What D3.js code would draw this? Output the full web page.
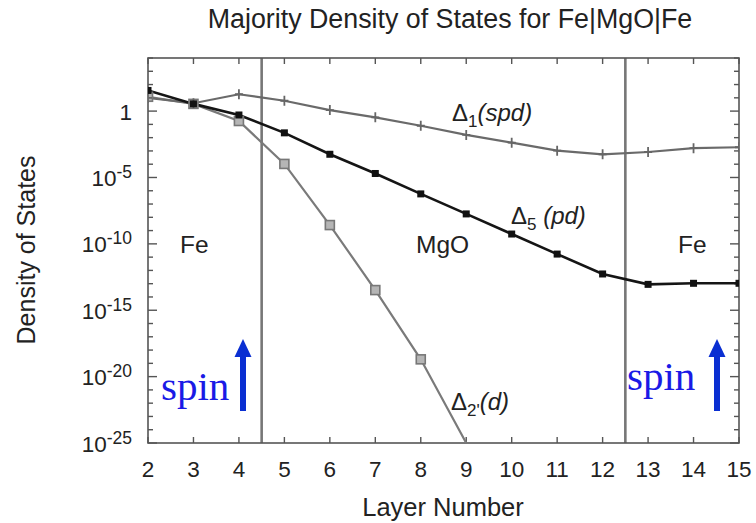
<!DOCTYPE html>
<html>
<head>
<meta charset="utf-8">
<script src="https://cdn.jsdelivr.net/npm/d3@7/dist/d3.min.js"></script>
<style>
  html, body { margin: 0; padding: 0; background: #fff; }
  svg { display: block; }
  text { font-family: "Liberation Sans", Arial, Helvetica, sans-serif; }
  text.spin { font-family: "Liberation Serif", "Times New Roman", serif; }
</style>
</head>
<body>
<svg id="chart" width="756" height="523"></svg>
<script>
// Layer index along the Fe|MgO|Fe stack
const layers = [2, 3, 4, 5, 6, 7, 8, 9, 10, 11, 12, 13, 14, 15];

// Majority density of states per symmetry channel
const delta1 = [10, 3.9, 18.6, 6.0, 1.2, 0.34, 0.079, 0.016, 4.2e-3, 1.05e-3, 5.6e-4, 8.3e-4, 1.6e-3, 1.9e-3];
const delta5 = [36, 3.5, 0.51, 0.023, 5.6e-4, 2.0e-5, 5.8e-7, 1.8e-8, 5.5e-10, 1.7e-11, 5.4e-13, 8.9e-14, 1.07e-13, 1.07e-13];
const delta2p = [12, 3.5, 0.18, 1.05e-4, 2.6e-9, 3.3e-14, 2.0e-19, 1e-25];
const delta2pLayers = [2, 3, 4, 5, 6, 7, 8, 9];

// Fe / MgO interfaces
const interfaces = [4.5, 12.5];

// Axis ticks
const xTicks = [2, 3, 4, 5, 6, 7, 8, 9, 10, 11, 12, 13, 14, 15];
const yTickExps = [-25, -24, -23, -22, -21, -20, -19, -18, -17, -16, -15, -14, -13, -12, -11, -10, -9, -8, -7, -6, -5, -4, -3, -2, -1, 0, 1, 2, 3, 4];
const yLabelExps = [-25, -20, -15, -10, -5, 0];

const svg = d3.select("#chart");
const pLeft = 148, pRight = 739, pTop = 58, pBottom = 443;

const x = d3.scaleLinear().domain([2, 15]).range([pLeft, pRight]);
const y = d3.scaleLog().domain([1e-25, 1e4]).range([pBottom, pTop]);

const frameColor = "#555";

// Title
svg.append("text")
  .attr("x", 450).attr("y", 28)
  .attr("text-anchor", "middle")
  .attr("font-size", 26.8)
  .attr("fill", "#222")
  .text("Majority Density of States for Fe|MgO|Fe");

// Clip for data
svg.append("defs").append("clipPath").attr("id", "plotClip")
  .append("rect").attr("x", pLeft).attr("y", pTop).attr("width", pRight - pLeft).attr("height", pBottom - pTop);

// Interface lines
svg.append("g").selectAll("line").data(interfaces).join("line")
  .attr("x1", d => x(d)).attr("x2", d => x(d))
  .attr("y1", pTop).attr("y2", pBottom)
  .attr("stroke", "#777").attr("stroke-width", 2.6);

// Ticks (inside the frame, on all four sides)
const tickG = svg.append("g").attr("stroke", frameColor).attr("stroke-width", 1.4);
xTicks.forEach(t => {
  tickG.append("line").attr("x1", x(t)).attr("x2", x(t)).attr("y1", pBottom).attr("y2", pBottom - 6);
  tickG.append("line").attr("x1", x(t)).attr("x2", x(t)).attr("y1", pTop).attr("y2", pTop + 6);
});
yTickExps.forEach(e => {
  const len = (e % 5 === 0) ? 9 : 5;
  const yy = y(Math.pow(10, e));
  tickG.append("line").attr("x1", pLeft).attr("x2", pLeft + len).attr("y1", yy).attr("y2", yy);
  tickG.append("line").attr("x1", pRight).attr("x2", pRight - len).attr("y1", yy).attr("y2", yy);
});

// Frame
svg.append("rect")
  .attr("x", pLeft).attr("y", pTop).attr("width", pRight - pLeft).attr("height", pBottom - pTop)
  .attr("fill", "none").attr("stroke", frameColor).attr("stroke-width", 1.6);

// X tick labels
svg.append("g").selectAll("text").data(xTicks).join("text")
  .attr("x", d => x(d)).attr("y", 477)
  .attr("text-anchor", "middle")
  .attr("font-size", 22.5)
  .attr("fill", "#222")
  .text(d => d);

// Y tick labels
const yl = svg.append("g").selectAll("text").data(yLabelExps).join("text")
  .attr("x", 132).attr("y", d => y(Math.pow(10, d)) + 8.5)
  .attr("text-anchor", "end")
  .attr("font-size", 22.5)
  .attr("fill", "#222");
yl.each(function(d) {
  const t = d3.select(this);
  if (d === 0) { t.text("1"); return; }
  t.append("tspan").text("10");
  t.append("tspan").attr("font-size", 17.5).attr("dy", -8).text(String(d));
});

// Axis titles
svg.append("text")
  .attr("x", 443).attr("y", 516)
  .attr("text-anchor", "middle")
  .attr("font-size", 25.5)
  .attr("fill", "#222")
  .text("Layer Number");

svg.append("text")
  .attr("transform", "translate(35,250) rotate(-90)")
  .attr("text-anchor", "middle")
  .attr("font-size", 25)
  .attr("fill", "#222")
  .text("Density of States");

// Data lines
const line = d3.line().x(d => x(d[0])).y(d => y(d[1]));
const plot = svg.append("g").attr("clip-path", "url(#plotClip)");

const d1 = layers.map((l, i) => [l, delta1[i]]);
const d5 = layers.map((l, i) => [l, delta5[i]]);
const d2 = delta2pLayers.map((l, i) => [l, delta2p[i]]);

plot.append("path").datum(d2).attr("d", line)
  .attr("fill", "none").attr("stroke", "#7a7a7a").attr("stroke-width", 2.2);
plot.append("path").datum(d1).attr("d", line)
  .attr("fill", "none").attr("stroke", "#6a6a6a").attr("stroke-width", 2.2);
plot.append("path").datum(d5).attr("d", line)
  .attr("fill", "none").attr("stroke", "#151515").attr("stroke-width", 2.6);

// Markers
plot.append("g").selectAll("rect").data(d2.filter(d => d[1] > 1e-25)).join("rect")
  .attr("x", d => x(d[0]) - 4.5).attr("y", d => y(d[1]) - 4.5)
  .attr("width", 9).attr("height", 9)
  .attr("fill", "#b5b5b5").attr("stroke", "#777").attr("stroke-width", 1.6);

plot.append("g").selectAll("path").data(d1).join("path")
  .attr("d", d => `M${x(d[0]) - 4},${y(d[1])}h8M${x(d[0])},${y(d[1]) - 5}v10`)
  .attr("stroke", "#666").attr("stroke-width", 1.8);

plot.append("g").selectAll("rect").data(d5).join("rect")
  .attr("x", d => x(d[0]) - 3.5).attr("y", d => y(d[1]) - 3.5)
  .attr("width", 7).attr("height", 7)
  .attr("fill", "#111");

// Region labels
const regionLabels = [
  { text: "Fe", x: 180, y: 253 },
  { text: "MgO", x: 416, y: 253 },
  { text: "Fe", x: 678, y: 253 }
];
svg.append("g").selectAll("text").data(regionLabels).join("text")
  .attr("x", d => d.x).attr("y", d => d.y)
  .attr("font-size", 24.5)
  .attr("fill", "#222")
  .text(d => d.text);

// Channel labels
function channelLabel(xp, yp, sub, rest) {
  const t = svg.append("text").attr("x", xp).attr("y", yp).attr("font-size", 24).attr("fill", "#222");
  t.append("tspan").text("\u0394");
  t.append("tspan").attr("font-size", 17).attr("dy", 6).text(sub);
  t.append("tspan").attr("dy", -6).attr("font-style", "italic").text(rest);
}
channelLabel(452, 121, "1", "(spd)");
channelLabel(511, 224, "5", " (pd)");
channelLabel(451, 410, "2'", "(d)");

// Spin arrows
const spinColor = "#0a2fd2";
const spins = [
  { tx: 161, ty: 400, ax: 243 },
  { tx: 627, ty: 390, ax: 717 }
];
spins.forEach(s => {
  svg.append("text")
    .attr("class", "spin")
    .attr("x", s.tx).attr("y", s.ty)
    .attr("font-size", 41)
    .attr("fill", "#1a1ae6")
    .text("spin");
  svg.append("rect")
    .attr("x", s.ax - 3).attr("y", 355).attr("width", 6).attr("height", 56)
    .attr("fill", spinColor);
  svg.append("path")
    .attr("d", `M${s.ax},339L${s.ax + 8.5},357L${s.ax - 8.5},357Z`)
    .attr("fill", spinColor);
});
</script>
</body>
</html>
